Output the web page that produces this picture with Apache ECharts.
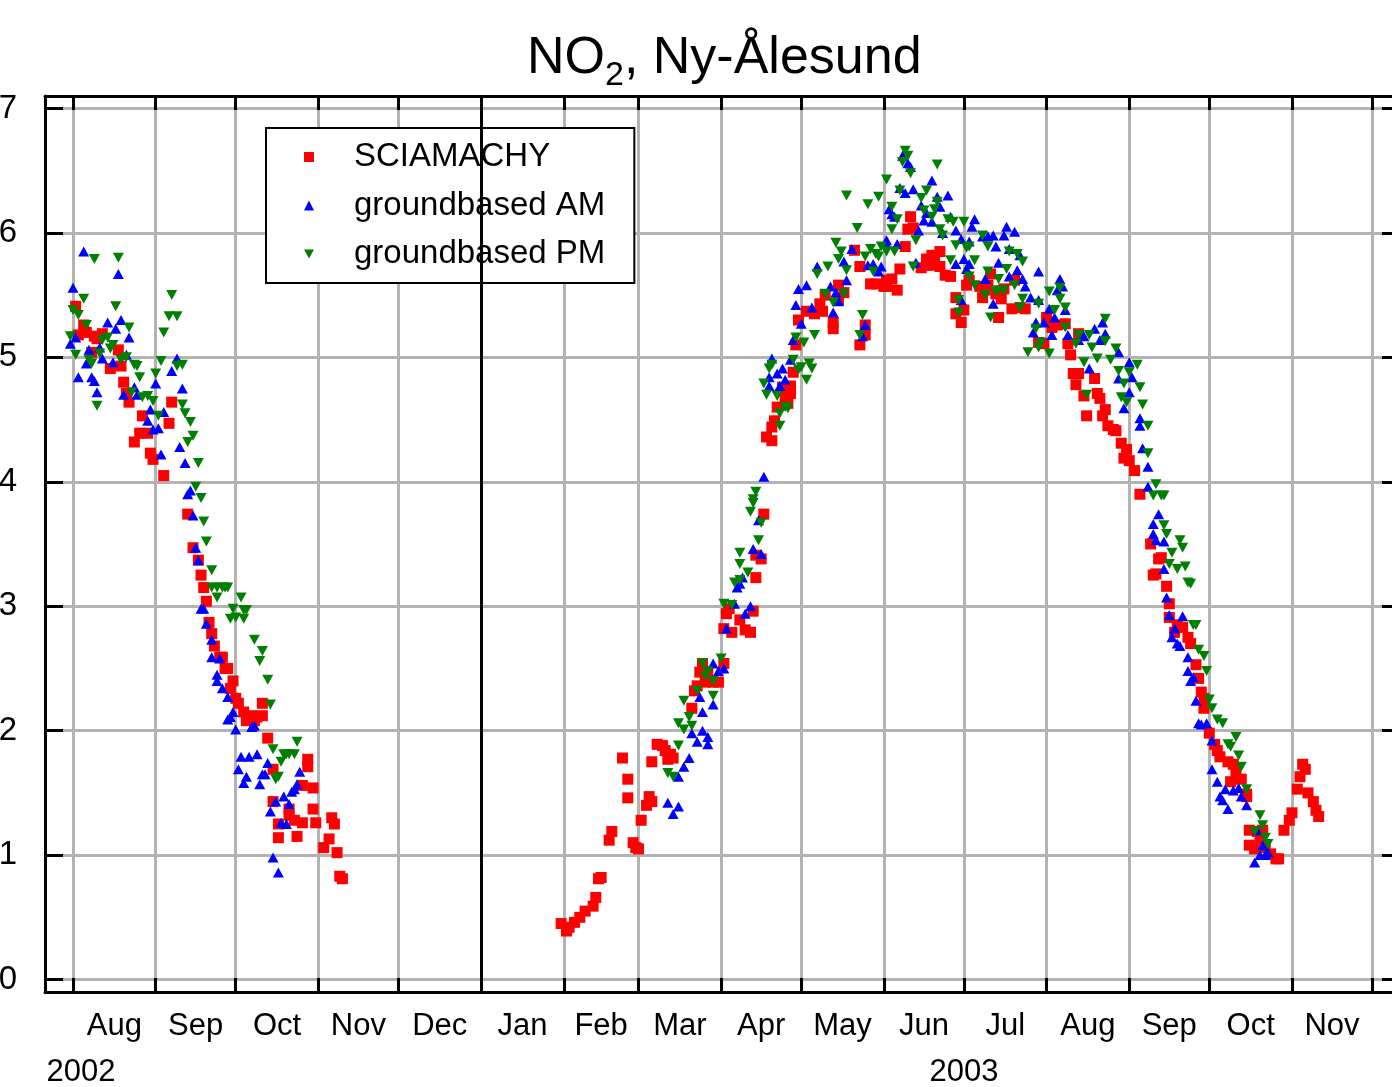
<!DOCTYPE html>
<html>
<head>
<meta charset="utf-8">
<script src="https://cdn.jsdelivr.net/npm/echarts@6/dist/echarts.min.js"></script>
<style>
html,body{margin:0;padding:0;background:#ffffff;}
#chart{width:1392px;height:1087px;}
</style>
</head>
<body>
<div id="chart"></div>
<script>
// ---------------- data ----------------
const monthNames = ['Jan','Feb','Mar','Apr','May','Jun','Jul','Aug','Sep','Oct','Nov','Dec'];
const monthStarts = ['2002-08-01','2002-09-01','2002-10-01','2002-11-01','2002-12-01','2003-01-01','2003-02-01','2003-03-01','2003-04-01','2003-05-01','2003-06-01','2003-07-01','2003-08-01','2003-09-01','2003-10-01','2003-11-01','2003-12-01'];
const yearLabels = ['2002','2003'];
const yearLabelDates = ['2002-08-04','2003-07-01'];
const yTicks = [0,1,2,3,4,5,6,7];
const xRange = ['2002-07-21T12:00:00Z','2003-12-11T12:00:00Z'];
const yearBoundary = '2003-01-01';

const sciamachy = [
 ['2002-08-02',5.41],['2002-08-05',5.26],['2002-08-03',5.18],['2002-08-06',5.20],['2002-08-09',5.17],['2002-08-12',5.19],['2002-08-10',5.15],['2002-08-18',5.06],['2002-08-08',5.04],['2002-08-15',4.91],['2002-08-19',4.93],['2002-08-20',4.80],['2002-08-22',4.64],['2002-08-21',4.71],['2002-08-27',4.53],['2002-08-24',4.32],['2002-08-26',4.39],['2002-08-29',4.39],['2002-08-30',4.23],['2002-08-31',4.18],['2002-09-04',4.05],['2002-09-07',4.64],['2002-09-06',4.47],
 ['2002-09-13',3.74],['2002-09-15',3.47],['2002-09-17',3.37],['2002-09-18',3.25],['2002-09-19',3.15],['2002-09-20',3.04],['2002-09-21',2.87],['2002-09-22',2.78],['2002-09-23',2.68],['2002-09-25',2.59],['2002-09-26',2.59],['2002-09-28',2.50],['2002-09-27',2.50],['2002-09-30',2.40],['2002-09-29',2.34],['2002-10-01',2.26],['2002-10-02',2.22],['2002-10-11',2.22],['2002-10-04',2.15],['2002-10-07',2.12],['2002-10-09',2.11],['2002-10-11',2.12],['2002-10-05',2.08],['2002-10-08',2.08],['2002-10-13',1.94],
 ['2002-10-28',1.77],['2002-10-28',1.71],['2002-10-15',1.69],['2002-10-26',1.56],['2002-10-30',1.54],['2002-10-15',1.43],['2002-10-30',1.37],['2002-10-21',1.37],['2002-10-21',1.32],['2002-10-23',1.28],['2002-10-26',1.26],['2002-10-17',1.25],['2002-10-31',1.26],['2002-11-06',1.30],['2002-11-07',1.25],['2002-10-17',1.14],['2002-10-24',1.15],['2002-11-05',1.13],['2002-11-03',1.06],['2002-11-08',1.02],['2002-11-09',0.83],['2002-11-10',0.81],
 ['2003-01-31',0.45],['2003-02-02',0.39],['2003-02-03',0.42],['2003-02-05',0.46],['2003-02-07',0.50],['2003-02-09',0.55],['2003-02-12',0.59],['2003-02-13',0.66],['2003-02-14',0.81],['2003-02-15',0.82],['2003-02-19',1.19],['2003-02-18',1.12],['2003-02-27',1.10],['2003-03-01',1.05],['2003-02-28',1.06],['2003-03-02',1.28],['2003-03-04',1.40],['2003-03-06',1.43],['2003-03-05',1.47],['2003-02-23',1.78],['2003-02-25',1.61],['2003-02-25',1.46],
 ['2003-03-08',1.89],['2003-03-10',1.88],['2003-03-11',1.84],['2003-03-13',1.81],['2003-03-14',1.78],['2003-03-06',1.75],['2003-03-12',1.77],['2003-03-21',2.18],['2003-03-23',2.36],['2003-03-22',2.32],['2003-03-24',2.47],['2003-03-25',2.54],['2003-03-27',2.46],['2003-03-29',2.39],['2003-03-31',2.39],['2003-04-02',2.54],['2003-03-26',2.39],
 ['2003-04-03',2.94],['2003-04-04',2.98],['2003-04-05',2.79],['2003-04-08',2.89],['2003-04-10',2.81],['2003-04-12',2.79],['2003-04-13',2.96],['2003-04-02',2.82],['2003-04-14',3.23],['2003-04-16',3.38],['2003-04-14',3.41],['2003-04-17',3.74],
 ['2003-04-18',4.36],['2003-04-20',4.33],['2003-04-21',4.49],['2003-04-20',4.44],['2003-04-22',4.60],['2003-04-26',4.63],['2003-04-25',4.68],['2003-04-27',4.71],['2003-04-24',4.76],['2003-04-27',4.77],['2003-04-28',4.88],['2003-04-29',5.10],['2003-04-30',5.30],
 ['2003-05-03',5.37],['2003-05-06',5.35],['2003-05-09',5.37],['2003-05-08',5.43],['2003-05-10',5.50],['2003-05-13',5.28],['2003-05-13',5.23],['2003-05-15',5.46],['2003-05-17',5.52],['2003-05-15',5.58],['2003-05-21',5.86],['2003-05-23',5.73],['2003-05-25',5.26],['2003-05-25',5.18],['2003-05-23',5.10],['2003-05-27',5.59],['2003-05-29',5.59],
 ['2003-06-02',5.62],['2003-06-02',5.57],['2003-06-06',5.54],['2003-06-04',5.63],['2003-06-07',5.71],['2003-06-01',5.57],['2003-06-09',5.89],['2003-06-11',6.13],['2003-06-10',6.03],['2003-06-12',6.04],['2003-06-15',5.72],['2003-06-17',5.79],['2003-06-19',5.82],['2003-06-20',5.78],['2003-06-22',5.85],['2003-06-22',5.73],['2003-06-19',5.74],['2003-06-17',5.74],['2003-06-24',5.66],['2003-06-26',5.65],['2003-06-28',5.48],['2003-06-28',5.35],['2003-06-30',5.28],
 ['2003-07-01',5.38],['2003-07-02',5.58],['2003-07-03',5.62],['2003-07-07',5.57],['2003-07-08',5.48],['2003-07-10',5.58],['2003-07-13',5.51],['2003-07-15',5.47],['2003-07-19',5.39],['2003-07-22',5.40],['2003-07-24',5.39],['2003-07-14',5.32],['2003-07-11',5.67],['2003-07-20',5.62],['2003-07-16',5.55],['2003-07-09',5.54],
 ['2003-08-01',5.32],['2003-08-03',5.24],['2003-08-05',5.26],['2003-08-08',5.27],['2003-07-29',5.12],['2003-07-31',5.11],['2003-08-09',5.11],['2003-08-10',5.02],['2003-08-13',5.19],['2003-08-11',4.87],['2003-08-13',4.87],['2003-08-12',4.78],['2003-08-15',4.69],['2003-08-19',4.83],['2003-08-20',4.71],['2003-08-21',4.67],['2003-08-16',4.53],['2003-08-22',4.53],['2003-08-23',4.58],['2003-08-24',4.45],['2003-08-26',4.42],['2003-08-27',4.41],['2003-08-29',4.31],['2003-08-31',4.26],['2003-08-30',4.19],
 ['2003-09-01',4.17],['2003-09-03',4.09],['2003-09-05',3.90],['2003-09-09',3.50],['2003-09-12',3.38],['2003-09-13',3.39],['2003-09-11',3.26],['2003-09-10',3.25],['2003-09-15',3.16],['2003-09-16',3.02],['2003-09-16',2.91],['2003-09-19',2.85],['2003-09-21',2.83],['2003-09-18',2.79],['2003-09-23',2.75],['2003-09-24',2.70],['2003-09-26',2.53],['2003-09-27',2.42],['2003-09-28',2.31],['2003-09-29',2.26],['2003-09-29',2.18],
 ['2003-10-01',1.98],['2003-10-03',1.89],['2003-10-04',1.84],['2003-10-05',1.79],['2003-10-08',1.75],['2003-10-10',1.73],['2003-10-11',1.67],['2003-10-13',1.61],['2003-10-09',1.59],['2003-10-15',1.49],['2003-10-15',1.47],['2003-10-16',1.20],['2003-10-19',1.19],['2003-10-21',1.20],['2003-10-16',1.08],['2003-10-18',1.05],['2003-10-20',1.12],['2003-10-22',1.06],['2003-10-24',1.01],['2003-10-26',0.97],['2003-10-27',0.97],
 ['2003-10-29',1.20],['2003-10-31',1.28],['2003-11-01',1.34],['2003-11-03',1.53],['2003-11-04',1.63],['2003-11-05',1.73],['2003-11-06',1.69],['2003-11-07',1.50],['2003-11-09',1.43],['2003-11-10',1.36],['2003-11-11',1.31]
];

const groundAM = [
 ['2002-08-05',5.85],['2002-08-18',5.67],['2002-08-01',5.56],['2002-08-14',5.28],['2002-08-19',5.30],['2002-08-17',5.23],['2002-08-22',5.16],['2002-07-31',5.11],['2002-08-02',5.16],['2002-08-07',5.06],['2002-08-11',5.08],['2002-08-12',4.99],['2002-08-16',4.96],['2002-08-21',5.02],['2002-08-06',4.95],['2002-08-03',4.84],['2002-08-08',4.84],['2002-08-09',4.81],['2002-08-10',4.72],['2002-08-20',4.70],['2002-08-25',4.70],['2002-08-24',4.76],
 ['2002-09-01',4.79],['2002-09-09',4.99],['2002-09-07',4.89],['2002-09-11',4.75],['2002-08-30',4.58],['2002-09-04',4.56],['2002-08-29',4.49],['2002-08-31',4.42],['2002-09-02',4.43],['2002-09-10',4.28],['2002-09-03',4.22],['2002-09-12',4.15],['2002-09-13',3.90],['2002-09-14',3.93],['2002-09-15',3.73],['2002-09-16',3.47],['2002-09-17',3.37],['2002-09-18',2.98],['2002-09-19',2.98],['2002-09-20',2.86],['2002-09-22',2.73],['2002-09-22',2.59],['2002-09-25',2.58],['2002-09-24',2.45],['2002-09-24',2.40],['2002-09-26',2.34],['2002-09-28',2.27],['2002-09-30',2.15],['2002-09-29',2.11],['2002-09-28',2.09],
 ['2002-10-01',2.01],['2002-10-07',2.03],['2002-10-08',2.04],['2002-10-03',1.79],['2002-10-06',1.79],['2002-10-09',1.81],['2002-10-02',1.69],['2002-10-05',1.63],['2002-10-04',1.58],['2002-10-10',1.57],['2002-10-11',1.65],['2002-10-13',1.74],['2002-10-12',1.65],['2002-10-25',1.67],['2002-10-24',1.57],['2002-10-23',1.53],['2002-10-22',1.51],['2002-10-21',1.41],['2002-10-19',1.47],['2002-10-16',1.43],['2002-10-14',1.35],['2002-10-18',1.26],['2002-10-20',1.25],['2002-10-15',0.98],['2002-10-17',0.86],
 ['2003-03-12',1.42],['2003-03-16',1.39],['2003-03-14',1.33],['2003-03-16',1.63],['2003-03-18',1.71],['2003-03-20',1.78],['2003-03-21',1.98],['2003-03-23',1.91],['2003-03-25',2.00],['2003-03-27',1.89],['2003-03-27',1.95],['2003-03-25',2.15],['2003-03-29',2.21],['2003-03-24',2.27],['2003-03-29',2.54],['2003-03-31',2.48],['2003-04-02',2.50],
 ['2003-04-03',2.82],['2003-04-06',3.02],['2003-04-10',2.94],['2003-04-12',3.00],['2003-04-07',3.15],['2003-04-08',3.18],['2003-04-09',3.23],['2003-04-13',3.46],['2003-04-16',3.42],['2003-04-15',3.69],['2003-04-17',4.04],
 ['2003-04-20',4.99],['2003-04-19',4.84],['2003-04-22',4.87],['2003-04-24',4.91],['2003-04-25',4.82],['2003-04-23',4.77],['2003-04-19',4.77],['2003-04-27',4.98],['2003-04-28',5.14],['2003-04-29',5.42],['2003-05-01',5.27],['2003-04-30',5.55],['2003-05-03',5.58],['2003-05-05',5.40],['2003-05-07',5.73],['2003-05-12',5.57],['2003-05-13',5.36],['2003-05-14',5.52],['2003-05-15',5.45],['2003-05-18',5.62],['2003-05-17',5.77],['2003-05-20',5.87],['2003-05-25',5.26],['2003-05-24',5.17],['2003-05-26',5.74],['2003-05-28',5.75],['2003-05-31',5.73],['2003-05-30',5.69],
 ['2003-06-02',5.94],['2003-06-06',5.91],['2003-06-02',5.91],['2003-06-03',6.19],['2003-06-04',6.15],['2003-06-05',6.13],['2003-06-07',6.36],['2003-06-09',6.32],['2003-06-12',6.35],['2003-06-08',6.62],['2003-06-10',6.56],['2003-06-11',6.53],['2003-06-14',6.02],['2003-06-16',6.10],['2003-06-17',6.16],['2003-06-15',6.22],['2003-06-19',6.42],['2003-06-19',6.09],['2003-06-21',6.29],['2003-06-22',6.21],['2003-06-25',6.30],['2003-06-23',6.00],['2003-06-13',5.76],['2003-06-26',6.13],['2003-06-28',6.02],['2003-06-30',5.95],['2003-06-28',5.75],['2003-06-30',5.46],
 ['2003-07-03',5.93],['2003-07-01',5.79],['2003-07-02',5.71],['2003-07-03',5.75],['2003-07-05',6.11],['2003-07-04',6.05],['2003-07-09',5.63],['2003-07-08',5.97],['2003-07-10',5.97],['2003-07-12',5.98],['2003-07-13',5.89],['2003-07-12',5.43],['2003-07-16',5.98],['2003-07-20',6.01],['2003-07-17',6.05],['2003-07-14',5.76],['2003-07-18',5.87],['2003-07-22',5.82],['2003-07-21',5.70],['2003-07-23',5.63],['2003-07-24',5.57],['2003-07-26',5.48],['2003-07-29',5.46],['2003-07-29',5.69],['2003-07-18',5.65],['2003-07-28',5.28],['2003-07-31',5.28],['2003-07-27',5.20],
 ['2003-08-06',5.63],['2003-08-07',5.57],['2003-08-05',5.54],['2003-08-02',5.39],['2003-08-04',5.32],['2003-08-08',5.38],['2003-08-03',5.18],['2003-08-09',5.18],['2003-08-13',5.14],['2003-08-15',5.17],['2003-08-19',5.23],['2003-08-21',5.14],['2003-08-23',5.19],['2003-08-22',5.28],['2003-08-28',5.04],['2003-08-17',4.91],['2003-08-28',4.83],['2003-09-01',4.96],['2003-09-02',4.84],['2003-09-01',4.72],['2003-08-30',4.59],
 ['2003-09-05',4.51],['2003-09-05',4.45],['2003-09-06',4.27],['2003-09-08',4.12],['2003-09-08',3.96],['2003-09-12',3.74],['2003-09-10',3.66],['2003-09-10',3.58],['2003-09-11',3.53],['2003-09-14',3.52],['2003-09-14',3.30],['2003-09-15',3.07],['2003-09-16',2.93],['2003-09-21',2.92],['2003-09-18',2.82],['2003-09-17',2.75],['2003-09-19',2.70],['2003-09-20',2.68],['2003-09-23',2.59],['2003-09-23',2.48],['2003-09-25',2.43],['2003-09-24',2.40],['2003-09-26',2.24],['2003-09-27',2.06],['2003-09-28',2.05],['2003-09-30',2.06],
 ['2003-10-02',1.92],['2003-10-02',1.69],['2003-10-04',1.59],['2003-10-05',1.47],['2003-10-06',1.44],['2003-10-07',1.53],['2003-10-08',1.37],['2003-10-10',1.52],['2003-10-12',1.54],['2003-10-13',1.47],['2003-10-15',1.40],['2003-10-19',1.20],['2003-10-21',1.08],['2003-10-20',1.00],['2003-10-18',0.94],['2003-10-22',1.00],['2003-10-23',1.02]
];

const groundPM = [
 ['2002-08-09',5.79],['2002-08-18',5.80],['2002-08-05',5.47],['2002-08-01',5.38],['2002-08-03',5.34],['2002-08-17',5.41],['2002-08-06',5.26],['2002-08-22',5.24],['2002-07-31',5.17],['2002-08-12',5.14],['2002-08-14',5.16],['2002-08-16',5.10],['2002-08-15',5.07],['2002-08-11',5.03],['2002-08-02',5.02],['2002-08-07',4.98],['2002-08-08',4.95],['2002-08-19',4.98],['2002-08-21',5.00],['2002-08-24',4.94],['2002-08-25',4.93],['2002-08-26',4.84],['2002-08-10',4.61],['2002-08-23',4.72],['2002-08-27',4.68],['2002-08-29',4.69],['2002-08-31',4.65],
 ['2002-09-01',4.87],['2002-09-03',4.97],['2002-09-07',5.50],['2002-09-06',5.33],['2002-09-09',5.33],['2002-09-04',5.20],['2002-09-09',4.93],['2002-09-11',4.94],['2002-09-02',4.53],['2002-09-11',4.62],['2002-09-12',4.55],['2002-09-14',4.48],['2002-09-15',4.37],['2002-09-13',4.32],['2002-09-17',4.15],['2002-09-16',3.96],['2002-09-18',3.87],['2002-09-19',3.68],['2002-09-20',3.52],['2002-09-22',3.29],['2002-09-22',3.15],['2002-09-24',3.15],['2002-09-26',3.15],['2002-09-27',3.15],['2002-09-28',3.15],['2002-09-24',3.07],
 ['2002-10-03',3.07],['2002-09-30',2.98],['2002-10-04',2.97],['2002-10-05',2.97],['2002-09-29',2.90],['2002-10-01',2.91],['2002-10-04',2.90],['2002-10-08',2.73],['2002-10-11',2.64],['2002-10-10',2.56],['2002-10-13',2.41],['2002-10-14',2.21],['2002-10-15',1.85],['2002-10-24',1.91],['2002-10-23',1.81],['2002-10-19',1.81],['2002-10-20',1.81],['2002-10-21',1.81],['2002-10-18',1.75],['2002-10-17',1.63],['2002-10-16',1.61],
 ['2003-03-12',1.66],['2003-03-14',1.63],['2003-03-16',1.88],['2003-03-18',2.24],['2003-03-16',2.06],['2003-03-18',2.01],['2003-03-20',2.11],['2003-03-21',2.04],['2003-03-23',2.32],['2003-03-29',2.28],['2003-03-25',2.54],['2003-03-27',2.48],['2003-03-26',2.44],['2003-03-29',2.40],['2003-04-01',2.58],
 ['2003-04-02',3.02],['2003-04-05',3.01],['2003-04-06',3.19],['2003-04-08',3.21],['2003-04-08',3.34],['2003-04-11',3.27],['2003-04-08',3.43],['2003-04-15',3.53],['2003-04-16',3.67],['2003-04-12',3.76],['2003-04-13',3.83],['2003-04-14',3.92],['2003-04-13',3.86],
 ['2003-04-19',4.91],['2003-04-20',4.94],['2003-04-17',4.79],['2003-04-18',4.70],['2003-04-22',4.69],['2003-04-23',4.55],['2003-04-23',4.45],['2003-04-25',4.60],['2003-04-26',4.59],['2003-04-28',4.98],['2003-04-30',4.90],['2003-05-01',4.92],['2003-05-04',4.95],['2003-05-05',4.91],['2003-05-03',4.82],['2003-04-29',5.16],['2003-05-02',5.12],['2003-05-06',5.18],
 ['2003-05-07',5.67],['2003-05-11',5.73],['2003-05-10',5.51],['2003-05-13',5.44],['2003-05-17',5.51],['2003-05-14',5.92],['2003-05-16',5.85],['2003-05-15',5.79],['2003-05-18',5.70],['2003-05-18',6.30],['2003-05-22',6.04],['2003-05-26',6.23],['2003-05-30',6.29],['2003-06-02',6.43],['2003-06-04',6.21],['2003-06-06',6.11],['2003-06-04',6.03],['2003-05-24',5.34],['2003-05-23',5.18],['2003-05-25',5.81],['2003-05-27',5.87],['2003-05-29',5.83],['2003-05-28',5.69],['2003-05-31',5.89],['2003-06-02',5.85],['2003-06-05',5.85],['2003-05-30',5.81],
 ['2003-06-09',6.66],['2003-06-10',6.62],['2003-06-08',6.57],['2003-06-11',6.48],['2003-06-07',6.34],['2003-06-13',5.94],['2003-06-12',5.73],['2003-06-15',6.28],['2003-06-17',6.34],['2003-06-16',6.18],['2003-06-19',6.13],['2003-06-20',6.19],['2003-06-21',6.25],['2003-06-21',6.55],['2003-06-22',6.03],['2003-06-23',5.98],['2003-06-25',6.11],['2003-06-27',6.09],['2003-06-26',5.78],['2003-06-28',5.90],['2003-06-29',5.46],['2003-06-29',5.36],
 ['2003-07-01',6.09],['2003-07-02',5.88],['2003-07-03',5.89],['2003-07-05',5.78],['2003-07-03',5.65],['2003-07-05',5.58],['2003-07-09',5.50],['2003-07-10',5.69],['2003-07-11',5.32],['2003-07-13',5.53],['2003-07-10',5.89],['2003-07-08',5.98],['2003-07-18',5.85],['2003-07-21',5.83],['2003-07-23',5.77],['2003-07-14',5.63],['2003-07-17',5.71],['2003-07-14',5.54],['2003-07-16',5.54],['2003-07-20',5.58],['2003-07-23',5.47],['2003-07-22',5.40],['2003-07-29',5.43],['2003-07-28',5.23],['2003-07-30',5.12],['2003-07-29',5.08],['2003-07-25',5.04],
 ['2003-08-02',5.53],['2003-08-06',5.56],['2003-08-08',5.40],['2003-08-08',5.24],['2003-08-06',5.47],['2003-08-02',5.03],['2003-08-04',5.38],['2003-08-12',5.11],['2003-08-13',5.18],['2003-08-17',5.18],['2003-08-18',5.08],['2003-08-20',4.99],['2003-08-23',5.31],['2003-08-25',4.98],['2003-08-23',5.13],['2003-08-27',5.07],['2003-08-15',4.96],['2003-08-16',4.70],['2003-08-28',4.89],['2003-08-30',4.79],['2003-08-29',4.68],['2003-08-31',4.64],
 ['2003-09-01',4.88],['2003-09-04',4.94],['2003-09-05',4.76],['2003-09-06',4.62],['2003-09-08',4.45],['2003-09-08',4.23],['2003-09-11',3.98],['2003-09-10',3.89],['2003-09-13',3.89],['2003-09-14',3.89],['2003-09-14',3.65],['2003-09-15',3.58],['2003-09-17',3.43],['2003-09-16',3.34],['2003-09-19',3.30],['2003-09-20',3.53],['2003-09-21',3.47],['2003-09-22',3.32],['2003-09-23',3.19],['2003-09-24',3.18],
 ['2003-09-25',2.85],['2003-09-26',2.85],['2003-09-27',2.65],['2003-09-29',2.60],['2003-09-30',2.48],['2003-10-01',2.25],['2003-10-02',2.18],['2003-10-04',2.09],['2003-10-06',2.06],['2003-10-11',1.95],['2003-10-08',1.89],['2003-10-09',1.87],['2003-10-12',1.80],['2003-10-13',1.71],['2003-10-15',1.53],['2003-10-20',1.32],['2003-10-21',1.24],['2003-10-18',1.19],['2003-10-22',1.14],['2003-10-23',1.09]
];

// ---------------- helpers ----------------
const t = s => Date.parse(s.length === 10 ? s + 'T00:00:00Z' : s);
const toXY = arr => arr.map(p => [t(p[0]), p[1]]);
const monthStartValues = monthStarts.map(t);
const monthLabelValues = monthStartValues.slice(0, -1).map((v, i) => (v + monthStartValues[i + 1]) / 2);
const yearLabelValues = yearLabelDates.map(t);
const FONT = "'Liberation Sans', Arial, Helvetica, sans-serif";
const GRID_GRAY = '#b3b3b3';
const DOWN_TRIANGLE = 'path://M0,0L10,0L5,9Z';

const chart = echarts.init(document.getElementById('chart'), null, {renderer: 'canvas'});

const baseX = {
  type: 'value', min: t(xRange[0]), max: t(xRange[1]), gridIndex: 0
};

const option = {
  animation: false,
  backgroundColor: '#ffffff',
  title: {
    text: '{a|NO}{b|2}{a|, Ny-Ålesund}',
    left: 527, top: 25, padding: 0,
    textStyle: {
      fontWeight: 'normal',
      rich: {
        a: {fontSize: 52, fontFamily: FONT, fontWeight: 'normal', color: '#000', lineHeight: 60, verticalAlign: 'bottom'},
        b: {fontSize: 34, fontFamily: FONT, fontWeight: 'normal', color: '#000', height: 19, lineHeight: 19, verticalAlign: 'bottom'}
      }
    }
  },
  grid: {left: 45, top: 96, right: -8, bottom: 95, containLabel: false, outerBoundsMode: 'none'},
  legend: {
    orient: 'vertical', left: 266, top: 128,
    padding: [11, 29, 11, 38], itemGap: 12.5,
    itemWidth: 10, itemHeight: 10,
    backgroundColor: '#ffffff', borderColor: '#000000', borderWidth: 2, borderRadius: 0,
    textStyle: {fontSize: 33, fontFamily: FONT, color: '#000', lineHeight: 36, padding: [0, 0, 0, 35]},
    data: ['SCIAMACHY', 'groundbased AM', {name: 'groundbased PM', icon: DOWN_TRIANGLE}]
  },
  xAxis: [
    Object.assign({}, baseX, {
      position: 'bottom',
      axisLine: {show: true, onZero: false, lineStyle: {color: '#000', width: 3}},
      axisTick: {show: true, inside: true, length: 14, lineStyle: {color: '#000', width: 3}, customValues: monthStartValues},
      axisLabel: {show: true, customValues: monthLabelValues, margin: 19, fontSize: 31, fontFamily: FONT, color: '#000',
        formatter: v => monthNames[new Date(v).getUTCMonth()]},
      splitLine: {show: true, lineStyle: {color: GRID_GRAY, width: 3}}
    }),
    Object.assign({}, baseX, {
      position: 'top',
      axisLine: {show: true, onZero: false, lineStyle: {color: '#000', width: 3}},
      axisTick: {show: true, inside: true, length: 14, lineStyle: {color: '#000', width: 3}, customValues: monthStartValues},
      axisLabel: {show: false},
      splitLine: {show: false}
    }),
    Object.assign({}, baseX, {
      position: 'bottom', offset: 46,
      axisLine: {show: false, onZero: false},
      axisTick: {show: false},
      axisLabel: {show: true, customValues: yearLabelValues, margin: 19, fontSize: 31, fontFamily: FONT, color: '#000',
        formatter: v => {
          const i = yearLabelValues.indexOf(v);
          return i >= 0 ? yearLabels[i] : String(new Date(v).getUTCFullYear());
        }},
      splitLine: {show: false}
    })
  ],
  yAxis: [
    {
      type: 'value', min: -0.1, max: 7.1, position: 'left',
      axisLine: {show: true, onZero: false, lineStyle: {color: '#000', width: 3}},
      axisTick: {show: true, inside: true, length: 18, lineStyle: {color: '#000', width: 3}, customValues: yTicks},
      axisLabel: {show: true, customValues: yTicks, margin: 28, fontSize: 33, fontFamily: FONT, color: '#000'},
      splitLine: {show: true, lineStyle: {color: GRID_GRAY, width: 3}}
    },
    {
      type: 'value', min: -0.1, max: 7.1, position: 'right',
      axisLine: {show: true, onZero: false, lineStyle: {color: '#000', width: 3}},
      axisTick: {show: true, inside: true, length: 18, lineStyle: {color: '#000', width: 3}, customValues: yTicks},
      axisLabel: {show: false},
      splitLine: {show: false}
    }
  ],
  series: [
    {
      name: 'SCIAMACHY', type: 'scatter', xAxisIndex: 0, yAxisIndex: 0,
      data: toXY(sciamachy), symbol: 'rect', symbolSize: 11,
      itemStyle: {color: '#ff0000', opacity: 1}, z: 3,
      markLine: {
        silent: true, symbol: ['none', 'none'], label: {show: false},
        lineStyle: {color: '#000', width: 3, type: 'solid'},
        data: [{xAxis: t(yearBoundary)}]
      }
    },
    {
      name: 'groundbased AM', type: 'scatter', xAxisIndex: 0, yAxisIndex: 0,
      data: toXY(groundAM), symbol: 'triangle', symbolSize: [11, 10],
      itemStyle: {color: '#0000ff', opacity: 1}, z: 4
    },
    {
      name: 'groundbased PM', type: 'scatter', xAxisIndex: 0, yAxisIndex: 0,
      data: toXY(groundPM), symbol: 'triangle', symbolRotate: 180, symbolSize: [11, 10],
      itemStyle: {color: '#008000', opacity: 1}, z: 5
    }
  ]
};
chart.setOption(option);
</script>
</body>
</html>
